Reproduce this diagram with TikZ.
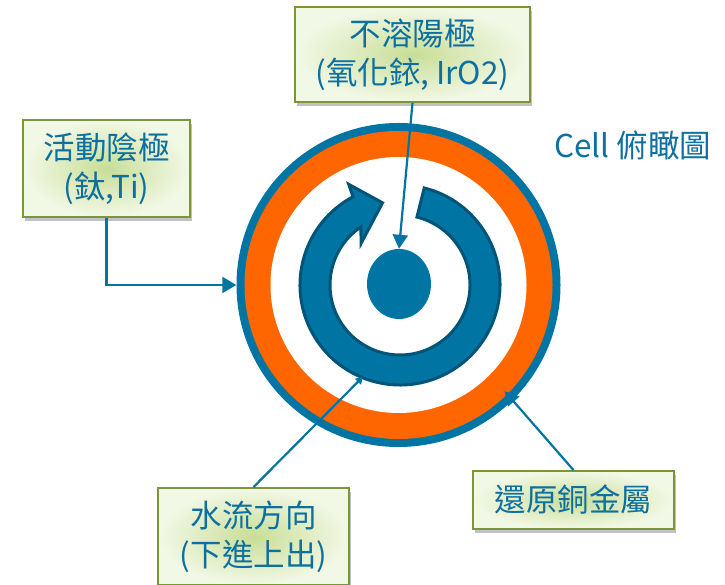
\documentclass[tikz,border=0pt]{standalone}
\usepackage{fontspec}
\setmainfont{Noto Sans CJK TC}
\usepackage{xcolor}
\usetikzlibrary{shapes,arrows.meta,positioning,shadows,calc}

\definecolor{cellblue}{RGB}{0,116,162}
\definecolor{ringedge}{RGB}{0,84,120}
\definecolor{cellorange}{RGB}{255,102,0}
\definecolor{labelblue}{RGB}{14,112,160}
\definecolor{boxin}{RGB}{200,222,150}
\definecolor{boxout}{RGB}{242,248,230}
\definecolor{boxedge}{RGB}{122,150,55}

\begin{document}
\begin{tikzpicture}[x=1pt, y=1pt,
  box/.style={draw=boxedge, line width=1.8pt, rectangle, inner color=boxin, outer color=boxout,
    drop shadow={shadow xshift=2pt, shadow yshift=-4pt, opacity=0.35, fill=black!70},
    text=labelblue, align=center, font=\fontsize{31.5}{39}\selectfont},
  link/.style={draw=cellblue, line width=2.2pt},
  tip/.style={-{Triangle[width=15pt,length=14pt]}}]
\useasboundingbox (0,0) rectangle (725,585);

% rings of the cell
\node (outer) [circle, fill=cellblue, minimum size=324pt, inner sep=0pt] at (398.5,300) {};
\fill[cellorange] (outer.center) circle (154);
\fill[white] (outer.center) circle (128);

% circular flow arrow
\begin{scope}[shift={(400,300)}]
\filldraw[fill=cellblue, draw=ringedge, line width=3pt, line join=miter]
  (76:100) arc[start angle=76, end angle=-242, radius=100]
  -- (-243:113) -- (-258:84) -- (-227:57) -- (-236:70)
  arc[start angle=-236, end angle=76, radius=70] -- cycle;
\coordinate (flowpt) at (-112:99);
\end{scope}
\node (anode) [ellipse, fill=cellblue, minimum width=64pt, minimum height=70pt, inner sep=0pt] at (399,301) {};
\coordinate (cupt) at ($(outer.center)+(-45:150)$);

% labels
\node (top) [box, minimum width=235pt, minimum height=95pt] at (412.5,530.5) {不溶陽極\\(氧化銥, IrO2)};
\node (cathode) [box, minimum width=167pt, minimum height=97pt] at (106.5,416.5) {活動陰極\\(鈦,Ti)};
\node (water) [box, minimum width=191pt, minimum height=97pt] at (253.5,48.5) {水流方向\\(下進上出)};
\node (copper) [box, minimum width=201pt, minimum height=58pt] at (573.5,85) {還原銅金屬};
\node (title) [text=labelblue, font=\fontsize{31.5}{39}\selectfont] at (632.5,440) {Cell 俯瞰圖};

\draw[link, tip] (top.south) -- (anode.north);
\draw[link, -{Triangle[width=16pt,length=14pt]}] (cathode.south) |- (outer.west);
\draw[link, -{Triangle[width=8pt,length=7pt]}] (water.north) -- (flowpt);
\draw[link, tip] (copper.north) -- (cupt);
\end{tikzpicture}
\end{document}
